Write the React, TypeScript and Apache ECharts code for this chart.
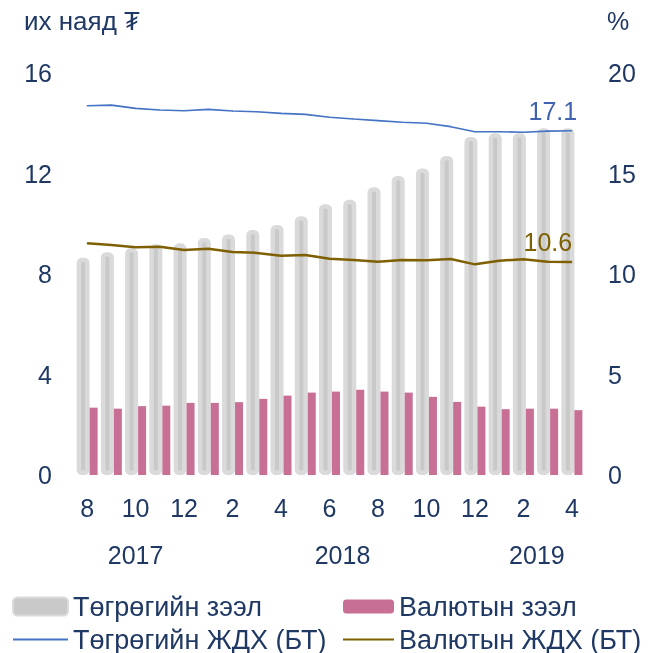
import React, { useEffect, useRef } from "react";
import * as echarts from "echarts";

const months = ["8", "9", "10", "11", "12", "1", "2", "3", "4", "5", "6", "7", "8", "9", "10", "11", "12", "1", "2", "3", "4"];
const togrogLoan = [8.65, 8.87, 9.03, 9.18, 9.22, 9.43, 9.57, 9.75, 9.95, 10.3, 10.78, 10.96, 11.45, 11.9, 12.2, 12.7, 13.45, 13.6, 13.6, 13.8, 13.8];
const valutLoan = [2.68, 2.64, 2.74, 2.76, 2.87, 2.87, 2.9, 3.03, 3.16, 3.28, 3.32, 3.39, 3.32, 3.28, 3.11, 2.91, 2.72, 2.62, 2.64, 2.64, 2.58];
const togrogRate = [18.37, 18.4, 18.24, 18.16, 18.12, 18.19, 18.11, 18.07, 17.99, 17.94, 17.8, 17.71, 17.63, 17.55, 17.5, 17.33, 17.08, 17.08, 17.05, 17.11, 17.13];
const valutRate = [11.53, 11.44, 11.33, 11.36, 11.19, 11.26, 11.1, 11.05, 10.91, 10.95, 10.76, 10.7, 10.61, 10.7, 10.68, 10.75, 10.48, 10.66, 10.73, 10.61, 10.6];

const NAVY = "#1f3864";
const FONT = "'Liberation Sans', Arial, 'DejaVu Sans', sans-serif";
const FS = 25;
const LEGEND_FS = 27;

function withEndLabel(arr: number[], color: string, offset: number[]) {
  return arr.map((v, i) =>
    i === arr.length - 1
      ? {
          value: v,
          label: {
            show: true,
            position: "top",
            distance: 7,
            offset,
            formatter: (p: any) => Number(p.value).toFixed(1),
            color,
            fontSize: FS,
            fontFamily: FONT,
          },
        }
      : v
  );
}

export default function App() {
  const ref = useRef<HTMLDivElement>(null);
  useEffect(() => {
    if (!ref.current) return;
    const chart = echarts.init(ref.current, null, { renderer: "svg" });
    const textStyle = { color: NAVY, fontSize: FS, fontFamily: FONT };
    const legendText = { color: NAVY, fontSize: LEGEND_FS, fontFamily: FONT, lineHeight: 27 };
    const hiddenSymbol = { opacity: 0 };
    chart.setOption({
      animation: false,
      textStyle: { fontFamily: FONT },
      title: [
        { text: "их наяд ₮", left: 24, top: 8, padding: 0, textStyle: { ...textStyle, fontSize: 26, fontWeight: "normal" } },
        { text: "%", left: 607, top: 8, padding: 0, textStyle: { ...textStyle, fontWeight: "normal" } },
      ],
      grid: { left: 75, right: 70, top: 73, bottom: 178 },
      legend: [
        {
          orient: "vertical",
          left: 12,
          top: 593,
          height: 70,
          padding: 0,
          itemWidth: 55,
          itemHeight: 18,
          itemGap: 6,
          textStyle: legendText,
          data: [
            { name: "Төгрөгийн зээл" },
            { name: "Төгрөгийн ЖДХ (БТ)", itemStyle: hiddenSymbol },
          ],
        },
        {
          orient: "vertical",
          left: 342,
          top: 593,
          height: 70,
          padding: 0,
          itemWidth: 51,
          itemHeight: 14,
          itemGap: 6,
          textStyle: legendText,
          data: [
            { name: "Валютын зээл" },
            { name: "Валютын ЖДХ (БТ)", itemStyle: hiddenSymbol },
          ],
        },
      ],
      xAxis: [
        {
          type: "category",
          data: months,
          axisLine: { show: false },
          axisTick: { show: false },
          axisLabel: { ...textStyle, interval: 1, margin: 20 },
        },
        {
          type: "category",
          data: months,
          position: "bottom",
          axisLine: { show: false },
          axisTick: { show: false },
          axisLabel: {
            ...textStyle,
            interval: 0,
            margin: 67,
            formatter: (_v: string, i: number) => {
              if (i === 2) return "{a|2017}";
              if (i === 10) return "{b|2018}";
              if (i === 18) return "{c|2019}";
              return "";
            },
            rich: {
              a: { ...textStyle },
              b: { ...textStyle, padding: [0, 0, 0, 26] },
              c: { ...textStyle, padding: [0, 0, 0, 27] },
            },
          },
        },
      ],
      yAxis: [
        {
          type: "value",
          min: 0,
          max: 16,
          interval: 4,
          splitLine: { show: false },
          axisLine: { show: false },
          axisTick: { show: false },
          axisLabel: { ...textStyle, margin: 23 },
        },
        {
          type: "value",
          min: 0,
          max: 20,
          interval: 5,
          splitLine: { show: false },
          axisLine: { show: false },
          axisTick: { show: false },
          axisLabel: { ...textStyle, margin: 24, align: "left" },
        },
      ],
      series: [
        {
          name: "Төгрөгийн зээл",
          type: "bar",
          data: togrogLoan,
          barWidth: 13,
          barGap: "0%",
          itemStyle: { color: "#c9c9c9", borderColor: "#dadada", borderWidth: 4.5, borderRadius: 3 },
        },
        {
          name: "Валютын зээл",
          type: "bar",
          data: valutLoan,
          barWidth: 8,
          itemStyle: { color: "#c86f96" },
        },
        {
          name: "Төгрөгийн ЖДХ (БТ)",
          type: "line",
          yAxisIndex: 1,
          symbol: "circle",
          symbolSize: 1,
          showSymbol: true,
          data: withEndLabel(togrogRate, "#3f63b0", [-19, 0]),
          lineStyle: { color: "#4472c4", width: 1.6 },
          itemStyle: { color: "#4472c4" },
          z: 5,
        },
        {
          name: "Валютын ЖДХ (БТ)",
          type: "line",
          yAxisIndex: 1,
          symbol: "circle",
          symbolSize: 1,
          showSymbol: true,
          data: withEndLabel(valutRate, "#7f6000", [-24, 0]),
          lineStyle: { color: "#7f6000", width: 2.5 },
          itemStyle: { color: "#7f6000" },
          z: 5,
        },
      ],
    });
    return () => chart.dispose();
  }, []);
  return <div ref={ref} style={{ position: "fixed", left: 0, top: 0, width: 654, height: 653 }} />;
}
